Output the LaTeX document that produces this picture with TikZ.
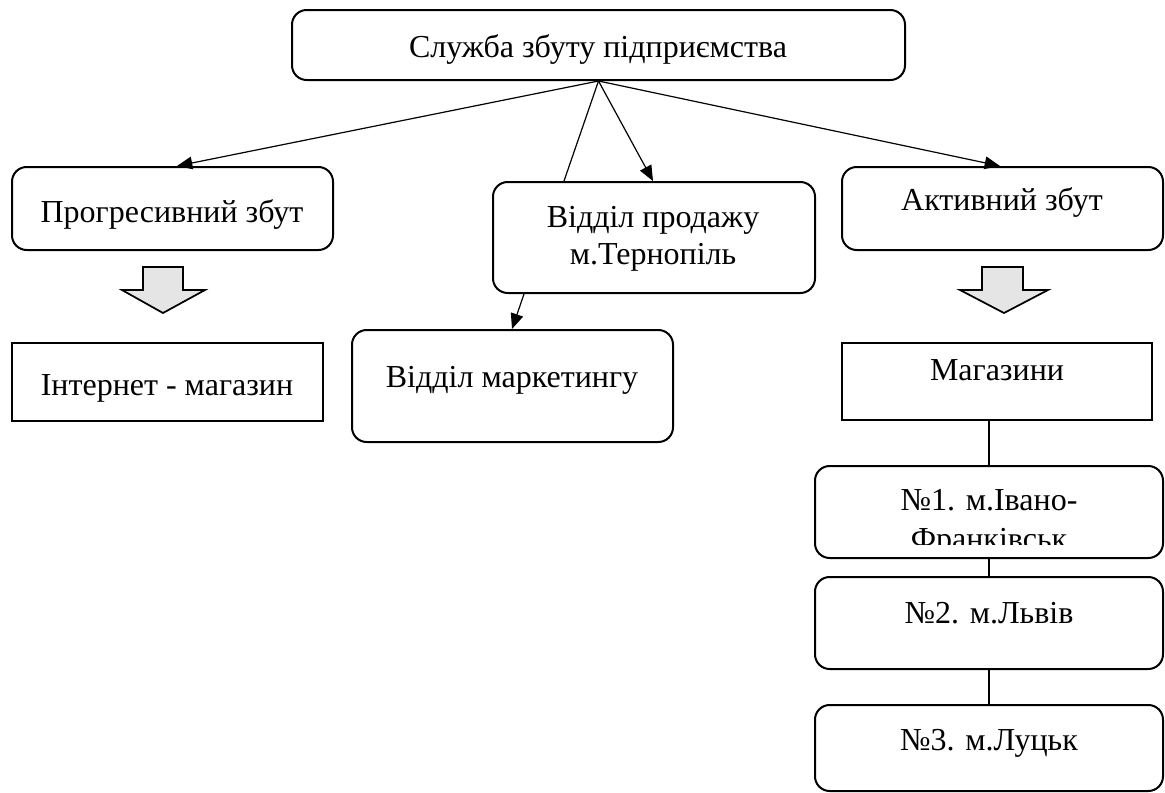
\documentclass[tikz,border=0pt]{standalone}
\usepackage{fontspec}
\setmainfont{Liberation Serif}
\usetikzlibrary{arrows.meta,calc}
\tikzset{
  box/.style={draw, line width=1.5pt, rounded corners=11pt, inner sep=0pt},
  sqbox/.style={draw, line width=1.5pt, inner sep=0pt},
  sz/.style 2 args={minimum width=#1*0.75pt, minimum height=#2*0.75pt},
  txt/.style={inner sep=0pt, anchor=base, font=\fontsize{24}{28}\selectfont},
  conn/.style={line width=0.9pt},
  arr/.style={conn, -{Triangle[length=11.5pt,width=9.5pt]}},
  blockarrow/.style={draw, line width=1.3pt, fill=black!10, line join=miter}
}
\begin{document}
\begin{tikzpicture}[x=0.75pt,y=-0.75pt]
\useasboundingbox (0,0) rectangle (1165,793);
% boxes
\node[box, sz={613}{70}] (top) at (598.5,45) {};
\node[box, sz={321}{83}] (prog) at (172.5,208.5) {};
\node[box, sz={322}{111}] (prod) at (654,237.5) {};
\node[box, sz={321}{83}] (act) at (1002.5,208.5) {};
\node[sqbox, sz={311}{78}] (inet) at (167.5,382) {};
\node[box, sz={321}{112}] (mark) at (512.5,386) {};
\node[sqbox, sz={310}{77}] (mag) at (997,381.5) {};
\node[box, sz={348}{92}] (n1) at (989,512) {};
\node[box, sz={348}{92}] (n2) at (989,623) {};
\node[box, sz={348}{86}] (n3) at (989,748) {};
% texts
\node[txt] (ttop) at (598,57) {Служба збуту підприємства};
\node[txt] (tprog) at (172,222) {Прогресивний збут};
\node[txt] (tprodA) at (653,227) {Відділ продажу};
\node[txt] (tprodB) at (653,264) {м.Тернопіль};
\node[txt] (tact) at (1002,210) {Активний збут};
\node[txt] (tinet) at (167,395) {Інтернет - магазин};
\node[txt] (tmark) at (512,387) {Відділ маркетингу};
\node[txt] (tmag) at (997,380) {Магазини};
\begin{scope}
  \clip (815,466) rectangle (1163,544);
  \node[txt] (tn1a) at (989,510) {№1. м.Івано-};
  \node[txt] (tn1b) at (989,549) {Франківськ};
\end{scope}
\node[txt] (tn2) at (989,623) {№2. м.Львів};
\node[txt] (tn3) at (989,750) {№3. м.Луцьк};
% block arrows
\draw[blockarrow] (143,267) -- (183,267) -- (183,290) -- (205,290) -- (163,313) -- (122,290) -- (143,290) -- cycle;
\draw[blockarrow] (982,267) -- (1023,267) -- (1023,290) -- (1048,290) -- (1004,313) -- (960,290) -- (982,290) -- cycle;
% connectors
\draw[arr] (top.south) -- ($(prog.north)+(4.5,0)$);
\draw[arr] (top.south) -- ($(act.north)+(-2.5,0)$);
\draw[arr] (top.south) -- ($(prod.north)+(-1,0)$);
\draw[conn] (top.south) -- ($(prod.north west)+(72,0)$);
\draw[arr] ($(prod.south west)+(32,0)$) -- ($(mark.north west)+(161,0)$);
\draw[conn] (n1.north |- mag.south) -- (n1.north);
\draw[conn] (n1.south) -- (n2.north);
\draw[conn] (n2.south) -- (n3.north);
\end{tikzpicture}
\end{document}
